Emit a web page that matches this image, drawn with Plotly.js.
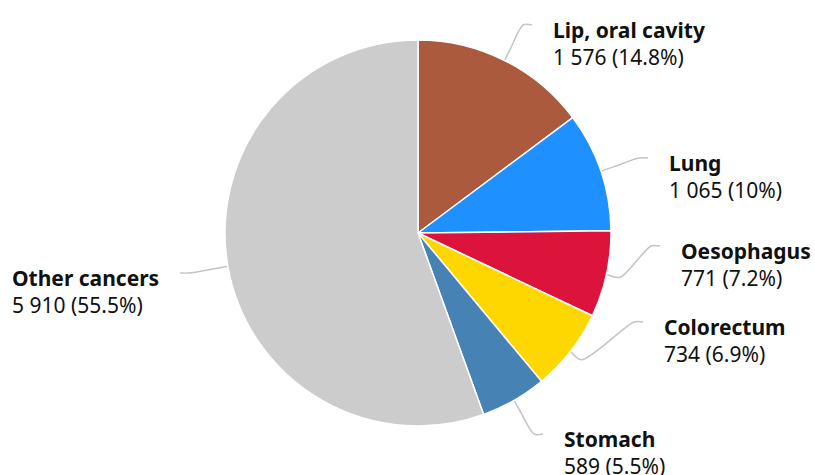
<!DOCTYPE html>
<html>
<head>
<meta charset="utf-8">
<script src="https://cdn.plot.ly/plotly-3.0.1.min.js"></script>
<style>html,body{margin:0;padding:0;background:#fff;}#chart{width:815px;height:475px;}</style>
</head>
<body>
<div id="chart"></div>
<script>
// ---- data ----
const categories = ["Lip, oral cavity", "Lung", "Oesophagus", "Colorectum", "Stomach", "Other cancers"];
const values = [1576, 1065, 771, 734, 589, 5910];
const colors = ["#AB5A3E", "#1E90FF", "#DC143C", "#FFD700", "#4682B4", "#CCCCCC"];

// ---- layout settings (pixels) ----
const W = 815, H = 475;
const cx = 418, cy = 233, R = 193;
// connector end points next to each label
const labelEnds = [[532, 25], [648, 158], [660, 246], [643, 322], [543, 434], [180, 273]];

const total = values.reduce((a, b) => a + b, 0);
function fmtNum(v) { return String(v).replace(/\B(?=(\d{3})+(?!\d))/g, " "); }
function fmtPct(v) { return String(Number((v / total * 100).toFixed(1))); }

const traces = [{
  type: "pie",
  labels: categories,
  values: values,
  sort: false,
  direction: "clockwise",
  rotation: 0,
  marker: { colors: colors, line: { color: "#ffffff", width: 1.5 } },
  textinfo: "none",
  hoverinfo: "label+value+percent",
  showlegend: false,
  domain: { x: [(cx - R) / W, (cx + R) / W], y: [(H - cy - R) / H, (H - cy + R) / H] }
}];

const annotations = [];
let cum = 0;
values.forEach((v, i) => {
  const mid = (cum + v / 2) / total;
  cum += v;
  const th = 2 * Math.PI * mid;
  const s = Math.sin(th), c = Math.cos(th);
  const e = labelEnds[i];
  const right = e[0] > cx;
  const xs = [cx + R * s, cx + (R + 14) * s, e[0] + (right ? -9 : 9), e[0]];
  const ys = [cy - R * c, cy - (R + 14) * c, e[1], e[1]];
  traces.push({
    type: "scatter", mode: "lines", x: xs, y: ys,
    line: { color: "#c4c4c4", width: 1.5, shape: "spline", smoothing: 0.8 },
    hoverinfo: "skip", showlegend: false
  });
  annotations.push({
    xref: "x", yref: "y",
    x: right ? e[0] + 20 : e[0] - 20,
    y: e[1] - 10,
    xanchor: right ? "left" : "right",
    yanchor: "top",
    align: "left",
    showarrow: false,
    borderpad: 0,
    text: "<b>" + categories[i] + "</b><br>" + fmtNum(v) + " (" + fmtPct(v) + "%)",
    font: { family: "Noto Sans, Open Sans, sans-serif", size: 21, color: "#111111" }
  });
});

const layout = {
  width: W, height: H,
  margin: { l: 0, r: 0, t: 0, b: 0 },
  paper_bgcolor: "#ffffff", plot_bgcolor: "rgba(0,0,0,0)",
  xaxis: { range: [0, W], visible: false, fixedrange: true },
  yaxis: { range: [H, 0], visible: false, fixedrange: true },
  annotations: annotations,
  showlegend: false
};

Plotly.newPlot("chart", traces, layout, { displayModeBar: false, staticPlot: true });
</script>
</body>
</html>
